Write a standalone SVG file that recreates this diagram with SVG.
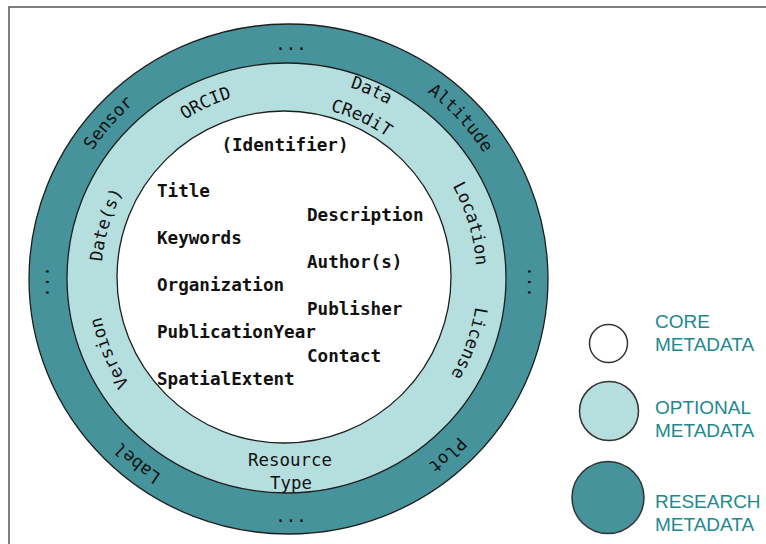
<svg xmlns="http://www.w3.org/2000/svg" width="766" height="544" viewBox="0 0 766 544">
  <style>
    .frame { fill: #ffffff; stroke: #555555; stroke-width: 1.5; }
    .ring { stroke: #1e1e1e; stroke-width: 1.3; }
    .research { fill: #47939b; }
    .optional { fill: #b5dedf; }
    .core { fill: #ffffff; }
    .core-txt { font-family: "DejaVu Sans Mono", "Liberation Mono", monospace; font-weight: bold; font-size: 17.6px; fill: #111111; }
    .ring-txt { font-family: "DejaVu Sans Mono", "Liberation Mono", monospace; font-size: 17.4px; fill: #111111; }
    .legend-txt { font-family: "Liberation Sans", Arial, sans-serif; font-size: 19px; fill: #21898e; }
    .legend-dot { stroke: #333333; stroke-width: 1.5; }
  </style>
  <defs>
    <!-- baseline arcs for curved ring labels, all running clockwise -->
    <path id="arc-sensor" d="M55.1,294.8 A233,233 0 0 1 271.2,46.1"/>
    <path id="arc-altitude" d="M296.4,45.7 A233,233 0 0 1 520.3,287.4"/>
    <path id="arc-plot" d="M520.2,289.9 A233,233 0 0 1 276.1,511.2"/>
    <path id="arc-label" d="M311.0,510.3 A233,233 0 0 1 55.7,302.0"/>
    <path id="arc-orcid" d="M109.9,213.9 A189,189 0 0 1 352.1,100.9"/>
    <path id="arc-data" d="M215.8,90.7 A201,201 0 0 1 475.3,206.8"/>
    <path id="arc-credit" d="M227.5,116.2 A173,173 0 0 1 449.8,218.5"/>
    <path id="arc-location" d="M377.4,112.2 A189,189 0 0 1 453.8,368.4"/>
    <path id="arc-license" d="M459.1,197.0 A190,190 0 0 1 369.0,450.1"/>
    <path id="arc-version" d="M215.1,454.2 A190,190 0 0 1 111.8,206.1"/>
    <path id="arc-dates" d="M124.0,367.3 A186,186 0 0 1 198.7,115.0"/>
  </defs>

  <rect class="frame" x="9" y="7" width="800" height="600"/>

  <!-- outer ring: research metadata -->
  <g id="ring-research">
    <ellipse class="ring research" cx="288.5" cy="279" rx="259.5" ry="255"/>
    <text class="ring-txt" text-anchor="middle" x="291" y="50">...</text>
    <text class="ring-txt" text-anchor="middle" x="291" y="522">...</text>
    <text class="ring-txt" text-anchor="middle" x="45.8" y="282" transform="rotate(90 45.8 282)">...</text>
    <text class="ring-txt" text-anchor="middle" x="527.8" y="282" transform="rotate(90 527.8 282)">...</text>
    <text class="ring-txt" text-anchor="middle"><textPath href="#arc-sensor" startOffset="50%">Sensor</textPath></text>
    <text class="ring-txt" text-anchor="middle"><textPath href="#arc-altitude" startOffset="50%">Altitude</textPath></text>
    <text class="ring-txt" text-anchor="middle"><textPath href="#arc-plot" startOffset="50%">Plot</textPath></text>
    <text class="ring-txt" text-anchor="middle"><textPath href="#arc-label" startOffset="50%">Label</textPath></text>
  </g>

  <!-- middle ring: optional metadata -->
  <g id="ring-optional">
    <ellipse class="ring optional" cx="286.5" cy="278" rx="219.5" ry="215"/>
    <text class="ring-txt" text-anchor="middle"><textPath href="#arc-orcid" startOffset="50%">ORCID</textPath></text>
    <!-- two-line label set on two concentric arcs -->
    <text class="ring-txt" text-anchor="middle"><textPath href="#arc-data" startOffset="50%">Data</textPath><textPath href="#arc-credit" startOffset="50%">CRediT</textPath></text>
    <text class="ring-txt" text-anchor="middle"><textPath href="#arc-location" startOffset="50%">Location</textPath></text>
    <text class="ring-txt" text-anchor="middle"><textPath href="#arc-license" startOffset="50%">License</textPath></text>
    <text class="ring-txt" text-anchor="middle"><textPath href="#arc-version" startOffset="50%">Version</textPath></text>
    <text class="ring-txt" text-anchor="middle"><textPath href="#arc-dates" startOffset="50%">Date(s)</textPath></text>
    <text class="ring-txt" text-anchor="middle" x="290" y="466">Resource</text>
    <text class="ring-txt" text-anchor="middle" x="291" y="489">Type</text>
  </g>

  <!-- inner disc: core metadata -->
  <g id="ring-core">
    <ellipse class="ring core" cx="284" cy="277" rx="167" ry="166"/>
    <text class="core-txt" text-anchor="middle" x="285" y="151">(Identifier)</text>
    <text class="core-txt" x="157" y="197">Title</text>
    <text class="core-txt" x="307" y="221">Description</text>
    <text class="core-txt" x="157" y="244">Keywords</text>
    <text class="core-txt" x="307" y="268">Author(s)</text>
    <text class="core-txt" x="157" y="291">Organization</text>
    <text class="core-txt" x="307" y="315">Publisher</text>
    <text class="core-txt" x="157" y="338">PublicationYear</text>
    <text class="core-txt" x="307" y="362">Contact</text>
    <text class="core-txt" x="157" y="385">SpatialExtent</text>
  </g>

  <!-- legend -->
  <g id="legend-core">
    <circle class="legend-dot core" cx="608.5" cy="343.5" r="19"/>
    <text class="legend-txt" x="655" y="328">CORE</text>
    <text class="legend-txt" x="655" y="351">METADATA</text>
  </g>
  <g id="legend-optional">
    <circle class="legend-dot optional" cx="609" cy="411" r="29.5"/>
    <text class="legend-txt" x="655" y="414">OPTIONAL</text>
    <text class="legend-txt" x="655" y="437">METADATA</text>
  </g>
  <g id="legend-research">
    <circle class="legend-dot research" cx="608" cy="497.5" r="36"/>
    <text class="legend-txt" x="655" y="508">RESEARCH</text>
    <text class="legend-txt" x="655" y="531">METADATA</text>
  </g>
</svg>
